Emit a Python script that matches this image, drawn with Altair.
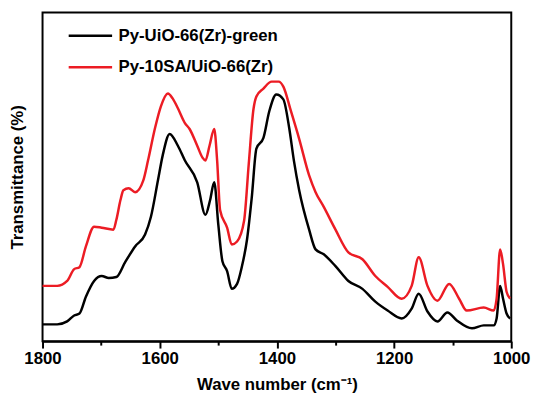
import altair as alt
import pandas as pd

series_names = ["Py-UiO-66(Zr)-green", "Py-10SA/UiO-66(Zr)"]
series_colors = ["#000000", "#ec1c24"]

black_wn = [1800, 1775, 1758, 1746, 1737, 1726, 1712, 1699, 1687, 1674, 1659, 1642, 1625, 1615,
            1603, 1595, 1583, 1569, 1557, 1536, 1522, 1514, 1507, 1500, 1493, 1485, 1477, 1468,
            1460, 1451, 1443, 1435, 1423, 1413, 1401, 1389, 1379, 1371, 1362, 1345, 1334, 1320,
            1300, 1278, 1254, 1232, 1211, 1187, 1170, 1158, 1143, 1126, 1109, 1093, 1067, 1047,
            1030, 1025, 1019, 1014, 1008, 1002]
black_t = [17, 17, 20, 26, 28, 45, 61, 66, 64, 65, 80, 96, 108, 126,
           163, 188, 210, 198, 183, 161, 128, 143, 161, 118, 81, 71, 53, 58,
           75, 103, 145, 195, 206, 233, 250, 245, 216, 183, 153, 113, 93, 88,
           76, 61, 53, 40, 31, 23, 33, 48, 30, 20, 29, 21, 13, 16,
           16, 23, 56, 43, 28, 23]

red_wn = [1800, 1775, 1758, 1746, 1737, 1726, 1712, 1699, 1679, 1674, 1667, 1662, 1653, 1642,
          1628, 1620, 1608, 1598, 1586, 1578, 1569, 1557, 1549, 1536, 1527, 1522, 1515, 1507,
          1502, 1497, 1485, 1477, 1468, 1456, 1448, 1440, 1435, 1423, 1409, 1397, 1389, 1376,
          1362, 1345, 1334, 1320, 1300, 1278, 1254, 1232, 1211, 1187, 1170, 1158, 1143, 1126,
          1106, 1089, 1076, 1047, 1030, 1025, 1019, 1014, 1008, 1002]
red_t = [56, 56, 61, 73, 75, 96, 116, 115, 113, 123, 143, 153, 155, 151,
         163, 183, 216, 238, 251, 246, 236, 221, 215, 198, 186, 183, 198, 215,
         183, 133, 115, 98, 101, 122, 180, 235, 248, 256, 263, 263, 258, 233,
         205, 168, 151, 136, 113, 90, 83, 66, 55, 43, 56, 85, 56, 41,
         58, 43, 31, 34, 31, 43, 93, 78, 50, 43]

x_ticks = [1800, 1700, 1600, 1500, 1400, 1300, 1200, 1100, 1000]

df = pd.concat([
    pd.DataFrame({"wn": black_wn, "t": black_t, "s": series_names[0],
                  "o": list(range(len(black_wn)))}),
    pd.DataFrame({"wn": red_wn, "t": red_t, "s": series_names[1],
                  "o": list(range(len(red_wn)))}),
], ignore_index=True)

FONT = "Liberation Sans"

chart = alt.Chart(df).mark_line(strokeWidth=2.5, interpolate="monotone").encode(
    x=alt.X("wn:Q",
            scale=alt.Scale(domain=[1800, 1000], nice=False, zero=False),
            axis=alt.Axis(values=x_ticks, format="d",
                          labelExpr="datum.value % 200 === 0 ? datum.label : ''",
                          tickSize={"expr": "datum.value % 200 === 0 ? 7 : 4"},
                          tickWidth=2, tickColor="black",
                          domainColor="black", domainWidth=2,
                          labelFont=FONT, labelFontSize=17, labelFontWeight="bold",
                          labelColor="black", labelPadding=3, labelFlush=False,
                          labelBound=False,
                          titleFont=FONT, titleFontSize=17, titleFontWeight="bold",
                          titleColor="black", titlePadding=10, grid=False),
            title="Wave number (cm⁻¹)"),
    y=alt.Y("t:Q",
            scale=alt.Scale(domain=[0, 333], nice=False, zero=False),
            axis=alt.Axis(labels=False, ticks=False, domain=False, grid=False,
                          titleFont=FONT, titleFontSize=17, titleFontWeight="bold",
                          titleColor="black", titleX=-25, titleY=166.5,
                          titleAngle=-90, titleBaseline="middle", titleAlign="center"),
            title="Transmittance (%)"),
    color=alt.Color("s:N",
                    scale=alt.Scale(domain=series_names, range=series_colors),
                    legend=alt.Legend(orient="none", legendX=25, legendY=0, title=None,
                                      symbolType="stroke", symbolSize=1936,
                                      symbolStrokeWidth=2.5, labelLimit=0,
                                      labelFont=FONT, labelFontSize=17,
                                      labelFontWeight="bold", labelColor="black",
                                      labelOffset=5, rowPadding=-24, padding=0)),
    order="o:Q",
).properties(
    width=475, height=333,
    autosize=alt.AutoSizeParams(type="none"),
    padding={"left": 35, "top": 2, "right": 20, "bottom": 55},
).configure_view(stroke="black", strokeWidth=2)

chart.save("out.html", embed_options={"renderer": "svg", "actions": False})
